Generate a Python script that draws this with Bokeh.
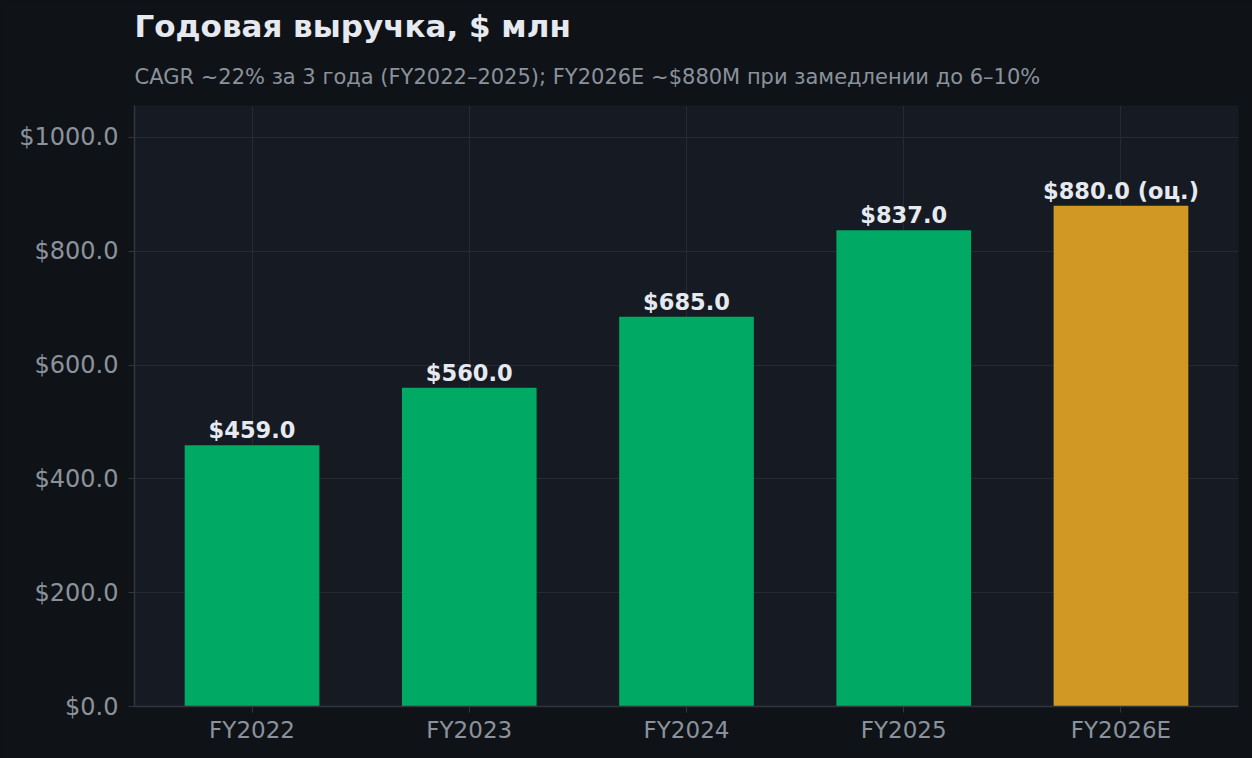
from bokeh.plotting import figure
from bokeh.models import (ColumnDataSource, FactorRange, Range1d, LabelSet, Title,
                          PrintfTickFormatter, FixedTicker)
from bokeh.core.properties import value
from bokeh.embed import file_html
from bokeh.resources import INLINE

years = ["FY2022", "FY2023", "FY2024", "FY2025", "FY2026E"]
revenue = [459.0, 560.0, 685.0, 837.0, 880.0]
bar_colors = ["#00a964", "#00a964", "#00a964", "#00a964", "#d19923"]
bar_labels = ["$459.0", "$560.0", "$685.0", "$837.0", "$880.0 (оц.)"]
y_ticks = [0, 200, 400, 600, 800, 1000]

title_text = "Годовая выручка, $ млн"
subtitle_text = "CAGR ~22% за 3 года (FY2022–2025); FY2026E ~$880M при замедлении до 6–10%"

BG_OUT = "#0f1317"
BG_PLOT = "#161a22"
GRID = "#252a33"
AXIS = "#30353e"
TICK_TXT = "#8b929c"
TXT = "#e6eaf0"
FONT = "DejaVu Sans"

W, H = 1252, 758
BL, BR, BT, BB = 134, 14, 105, 52

src = ColumnDataSource(dict(x=years, top=revenue, color=bar_colors, label=bar_labels))

p = figure(
    width=W, height=H,
    x_range=FactorRange(factors=years, range_padding=0.041, range_padding_units="absolute"),
    y_range=Range1d(0, 1056),
    output_backend="svg", toolbar_location=None, title=None,
    min_border_left=BL, min_border_right=BR, min_border_top=BT, min_border_bottom=BB,
)
p.background_fill_color = BG_PLOT
p.border_fill_color = BG_OUT
p.outline_line_color = None

p.vbar(x="x", top="top", width=0.62, color="color", source=src, line_color=None)

labels = LabelSet(x="x", y="top", text="label", source=src, y_offset=7,
                  text_align="center", text_baseline="alphabetic",
                  text_color=TXT, text_font=value(FONT), text_font_size="22.5px",
                  text_font_style="bold")
p.add_layout(labels)

# grids
p.xgrid.grid_line_color = GRID
p.ygrid.grid_line_color = GRID
p.xgrid.grid_line_width = 1
p.ygrid.grid_line_width = 1

# axes
p.yaxis.ticker = FixedTicker(ticks=y_ticks)
p.yaxis.formatter = PrintfTickFormatter(format="$%.1f")
for ax in (p.xaxis, p.yaxis):
    ax.axis_line_color = AXIS
    ax.major_tick_line_color = AXIS
    ax.minor_tick_line_color = None
    ax.major_tick_out = 6
    ax.major_tick_in = 0
    ax.major_label_text_color = TICK_TXT
    ax.major_label_text_font = FONT
    ax.axis_line_width = 1.5
p.xaxis.major_label_text_font_size = "23px"
p.yaxis.major_label_text_font_size = "24px"
p.xaxis.major_label_standoff = 4
p.yaxis.major_label_standoff = 10

# subtitle (closest to the plot) then title above it
sub = Title(text=subtitle_text, align="left", text_color=TICK_TXT, text_font=FONT,
            text_font_size="21px", text_font_style="normal", standoff=33)
ttl = Title(text=title_text, align="left", text_color=TXT, text_font=FONT,
            text_font_size="31px", text_font_style="bold", standoff=5)
p.add_layout(sub, "above")
p.add_layout(ttl, "above")

html = file_html(p, INLINE)
html = html.replace("<head>", "<head><style>html,body{background:%s;}</style>" % BG_OUT, 1)
open("out.html", "w").write(html)
